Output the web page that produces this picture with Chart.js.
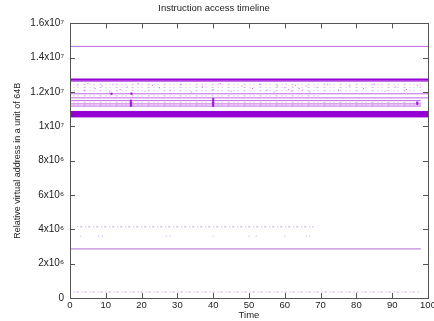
<!DOCTYPE html>
<html>
<head>
<meta charset="utf-8">
<script src="https://cdn.jsdelivr.net/npm/chart.js@4/dist/chart.umd.min.js"></script>
<style>
html,body{margin:0;padding:0;background:#fff;}
#wrap{width:434px;height:321px;}
</style>
</head>
<body>
<div id="wrap"><canvas id="c" width="434" height="321"></canvas></div>
<script>
// ---- data ----
const titleText = 'Instruction access timeline';
const xTitle = 'Time';
const yTitle = 'Relative virtual address in a unit of 64B';
const xRange = [0, 100];
const yRange = [0, 1.6e7];
const yTickLabels = ['0','2x10\u2076','4x10\u2076','6x10\u2076','8x10\u2076','1x10\u2077','1.2x10\u2077','1.4x10\u2077','1.6x10\u2077'];

// solid horizontal address lines: [start time, end time, address]
const solidStart = [0, 0, 0, 0, 0, 0, 0, 0, 0];
const solidEnd   = [100, 100, 100, 100, 100, 98, 98, 98, 98];
const solidAddr  = [1.466e7, 1.272e7, 1.262e7, 1.19e7, 1.166e7, 1.15e7, 1.131e7, 1.118e7, 2.86e6];

// dense block of accesses
const bandLow = 1.055e7;
const bandHigh = 1.087e7;
const bandStart = 0, bandEnd = 100;

// sparse dotted address rows: [start, end, address]
const sparseStart = [1, 1, 1, 1, 1, 1, 2, 1];
const sparseEnd   = [98, 98, 98, 70, 98, 98, 68, 98];
const sparseAddr  = [1.245e7, 1.228e7, 1.208e7, 1.178e7, 1.14e7, 1.124e7, 4.15e6, 3.5e5];

// scattered accesses in the upper region
const scatterX = [2,4,5,7,9,11,12,14,16,17,19,21,23,25,28,31,34,37,40,42,45,48,51,53,55,57,58,60,61,62,63,64,65,66,67,69,72,75,78,82,85,88,91,94,97];
const scatterY = [1.24e7,1.21e7,1.25e7,1.22e7,1.235e7,1.2e7,1.245e7,1.215e7,1.23e7,1.195e7,1.25e7,1.205e7,1.24e7,1.225e7,1.21e7,1.245e7,1.2e7,1.23e7,1.215e7,1.25e7,1.205e7,1.235e7,1.22e7,1.245e7,1.21e7,1.2e7,1.235e7,1.225e7,1.215e7,1.205e7,1.24e7,1.22e7,1.21e7,1.235e7,1.2e7,1.225e7,1.245e7,1.21e7,1.235e7,1.22e7,1.245e7,1.205e7,1.23e7,1.215e7,1.24e7];

// clusters of dense accesses
const clusterX = [17,17,17,17,40,40,40,40,40,11.6,17.2,97,97];
const clusterY = [1.12e7,1.13e7,1.14e7,1.15e7,1.12e7,1.13e7,1.14e7,1.15e7,1.16e7,1.19e7,1.19e7,1.13e7,1.14e7];

// isolated accesses near 3.6x10^6
const lowX = [3,8,9,27,28,40,50,52,60,66,67];
const lowY = [3.6e6,3.6e6,3.6e6,3.6e6,3.6e6,3.6e6,3.6e6,3.6e6,3.6e6,3.6e6,3.6e6];

// ---- build datasets ----
const PURPLE = '#9400D3';
const datasets = [];
datasets.push({type:'line', data:[{x:bandStart,y:bandLow},{x:bandEnd,y:bandLow}], borderColor:PURPLE, borderWidth:1, pointRadius:0, fill:false});
datasets.push({type:'line', data:[{x:bandStart,y:bandHigh},{x:bandEnd,y:bandHigh}], borderColor:PURPLE, borderWidth:1, pointRadius:0, fill:'-1', backgroundColor:PURPLE});
solidAddr.forEach((a,i)=>{
  const thick = i===1 ? 2.2 : 1;
  const col = a < 5e6 ? 'rgba(150,60,200,0.75)' : (i===1 ? PURPLE : 'rgba(148,0,211,0.6)');
  datasets.push({type:'line', data:[{x:solidStart[i],y:a},{x:solidEnd[i],y:a}], borderColor:col, borderWidth:thick, pointRadius:0});
});
sparseAddr.forEach((a,i)=>{
  const dash = a < 5e6 ? [1,2,2,3] : [1,3,1,5,2,4];
  const col = a < 5e6 ? 'rgba(160,70,200,0.55)' : 'rgba(148,0,211,0.35)';
  datasets.push({type:'line', data:[{x:sparseStart[i],y:a},{x:sparseEnd[i],y:a}], borderColor:col, borderWidth:1, borderDash:dash, pointRadius:0});
});
datasets.push({type:'scatter', data:scatterX.map((x,i)=>({x, y:scatterY[i]})), pointStyle:'rect', pointRadius:0.7, backgroundColor:'rgba(148,0,211,0.6)', borderWidth:0});
datasets.push({type:'scatter', data:clusterX.map((x,i)=>({x, y:clusterY[i]})), pointStyle:'circle', pointRadius:1.2, backgroundColor:'rgba(148,0,211,0.8)', borderWidth:0});
datasets.push({type:'scatter', data:lowX.map((x,i)=>({x, y:lowY[i]})), pointStyle:'rect', pointRadius:0.6, backgroundColor:'rgba(160,70,200,0.6)', borderWidth:0});

const frame = {
  id:'frame',
  afterDraw(chart){
    const {ctx, chartArea:a, scales} = chart;
    ctx.save();
    ctx.strokeStyle = '#555';
    ctx.lineWidth = 1;
    ctx.strokeRect(Math.round(a.left)+0.5, Math.round(a.top)+0.5, Math.round(a.right-a.left), Math.round(a.bottom-a.top));
    const L = 5;
    ctx.beginPath();
    scales.x.ticks.forEach(t=>{
      const px = Math.round(scales.x.getPixelForValue(t.value))+0.5;
      ctx.moveTo(px, a.bottom); ctx.lineTo(px, a.bottom-L);
      ctx.moveTo(px, a.top); ctx.lineTo(px, a.top+L);
    });
    scales.y.ticks.forEach(t=>{
      const py = Math.round(scales.y.getPixelForValue(t.value))+0.5;
      ctx.moveTo(a.left, py); ctx.lineTo(a.left+L, py);
      ctx.moveTo(a.right, py); ctx.lineTo(a.right-L, py);
    });
    ctx.stroke();
    ctx.restore();
  }
};

const FONT = "'Liberation Sans', Arial, sans-serif";
new Chart(document.getElementById('c'), {
  data:{datasets},
  plugins:[frame],
  options:{
    responsive:false, animation:false, events:[],
    layout:{padding:{left:0,right:6,top:0,bottom:0}},
    plugins:{
      legend:{display:false}, tooltip:{enabled:false},
      title:{display:true, text:titleText, color:'#222', font:{family:FONT,size:9.5,weight:'normal'}, padding:{top:3,bottom:9}}
    },
    scales:{
      x:{type:'linear', min:xRange[0], max:xRange[1],
         afterFit(s){ s.height = 23; s.paddingRight = 0; s.paddingLeft = 0; },
         grid:{display:false, drawTicks:false, tickLength:0}, border:{display:false},
         ticks:{stepSize:10, color:'#222', font:{family:FONT,size:9.5}, padding:2, maxRotation:0, autoSkip:false},
         title:{display:true, text:xTitle, color:'#222', font:{family:FONT,size:9.5}, padding:{top:0,bottom:0}}},
      y:{type:'linear', min:yRange[0], max:yRange[1],
         afterFit(s){ s.width = 70; },
         grid:{display:false, drawTicks:false, tickLength:0}, border:{display:false},
         ticks:{stepSize:2e6, color:'#222', font:{family:FONT,size:10}, padding:6,
                callback:(v)=>{ const i = Math.round(v/2e6); return yTickLabels[i] ?? ''; }},
         title:{display:true, text:yTitle, color:'#222', font:{family:FONT,size:9}, padding:{top:12,bottom:0}}}
    }
  }
});
</script>
</body>
</html>
